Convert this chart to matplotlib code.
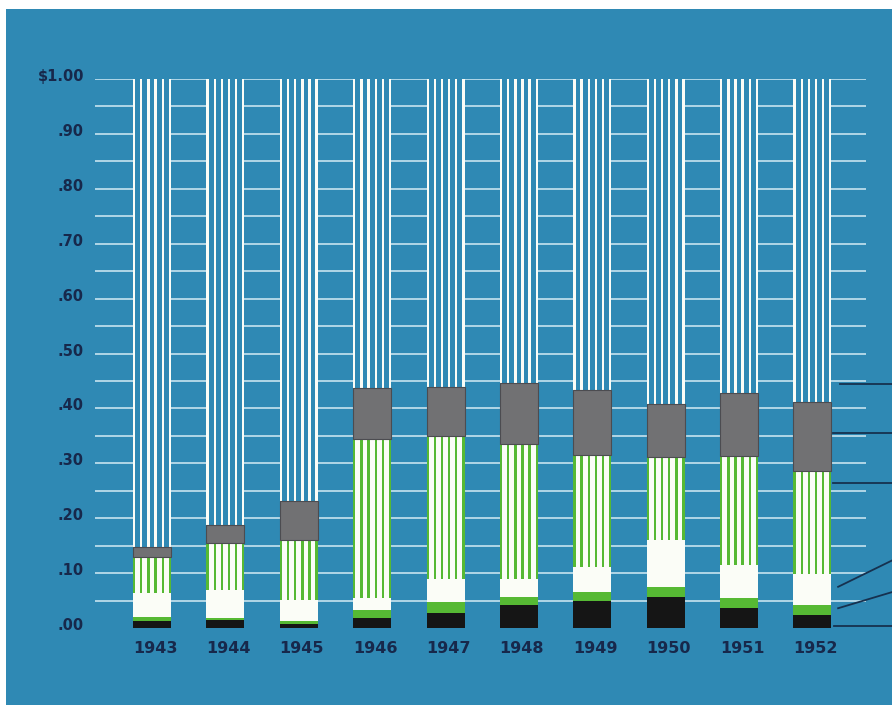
import matplotlib
matplotlib.use("Agg")
import matplotlib.pyplot as plt
import matplotlib.transforms as mtrans
import numpy as np

# ---- data: share of each dollar, by year, stacked from the bottom ----
years = ["1943", "1944", "1945", "1946", "1947", "1948", "1949", "1950", "1951", "1952"]
solid_black = [0.013, 0.015, 0.007, 0.018, 0.028, 0.041, 0.050, 0.056, 0.036, 0.024]
solid_green = [0.007, 0.004, 0.006, 0.015, 0.020, 0.016, 0.015, 0.019, 0.018, 0.017]
solid_white = [0.044, 0.050, 0.038, 0.021, 0.041, 0.032, 0.046, 0.085, 0.061, 0.058]
striped_green = [0.065, 0.086, 0.110, 0.291, 0.260, 0.247, 0.205, 0.152, 0.199, 0.187]
solid_gray = [0.018, 0.032, 0.071, 0.093, 0.090, 0.111, 0.117, 0.096, 0.114, 0.125]

y_ticks = [0.0, 0.1, 0.2, 0.3, 0.4, 0.5, 0.6, 0.7, 0.8, 0.9, 1.0]
y_tick_labels = [".00", ".10", ".20", ".30", ".40", ".50", ".60", ".70", ".80", ".90", "$1.00"]

# leader lines running off the right edge: (x0, y0, x1, y1) in data units
leaders = [
    (9.37, 0.444, 10.1, 0.444),
    (9.28, 0.355, 10.1, 0.355),
    (9.28, 0.264, 10.1, 0.264),
    (9.35, 0.075, 10.1, 0.124),
    (9.35, 0.036, 10.1, 0.066),
    (9.30, 0.004, 10.1, 0.004),
]

# ---- colours ----
BG = "#2f89b4"
GRID = "#d4ecf4"
BLACK = "#151515"
GREEN = "#56b934"
WHITE = "#fbfdf7"
GRAY = "#717173"
NAVY = "#17284b"
LEADER = "#16314f"

W, H = 892, 705
fig = plt.figure(figsize=(W / 100, H / 100), dpi=100)
fig.patch.set_facecolor("white")

# blue panel behind everything
bg_ax = fig.add_axes([6 / W, 0, 1, (H - 9) / H], zorder=-1)
bg_ax.set_facecolor(BG)
bg_ax.set_xticks([])
bg_ax.set_yticks([])
for s in bg_ax.spines.values():
    s.set_visible(False)

ax = fig.add_axes([95 / W, (H - 628) / H, 771 / W, 549 / H], zorder=1)
ax.set_facecolor("none")
ax.set_xlim(-0.777, 9.73)
ax.set_ylim(0, 1)
for s in ax.spines.values():
    s.set_visible(False)

# horizontal rules every five cents
for v in np.arange(0.05, 1.0001, 0.05):
    ax.axhline(v, color=GRID, lw=1.1, zorder=1)

x = np.arange(len(years))
bw = 0.518          # bar width
lw_stripe = 0.032   # stripe width

b1 = np.array(solid_black)
b2 = b1 + np.array(solid_green)
b3 = b2 + np.array(solid_white)
b4 = b3 + np.array(striped_green)
total = b4 + np.array(solid_gray)
rest = 1.0 - total


def stripes(heights, bottoms, color, z):
    for k in range(6):
        off = -bw / 2 + lw_stripe / 2 + k * (bw - lw_stripe) / 5
        ax.bar(x + off, heights, lw_stripe, bottom=bottoms, color=color,
               linewidth=0, zorder=z)


ax.bar(x, solid_black, bw, color=BLACK, linewidth=0, zorder=3)
ax.bar(x, solid_green, bw, bottom=b1, color=GREEN, linewidth=0, zorder=3)
ax.bar(x, solid_white, bw, bottom=b2, color=WHITE, linewidth=0, zorder=3)
ax.bar(x, striped_green, bw, bottom=b3, color=WHITE, linewidth=0, zorder=3)
stripes(striped_green, b3, GREEN, 4)
ax.bar(x, solid_gray, bw, bottom=b4, color=GRAY, edgecolor="#4c4c50",
       linewidth=0.8, zorder=5)
# remainder of the dollar: open column with white pinstripes
ax.bar(x, rest, bw, bottom=total, color=BG, linewidth=0, zorder=3)
stripes(rest, total, WHITE, 4)

for x0, y0, x1, y1 in leaders:
    ax.plot([x0, x1], [y0, y1], color=LEADER, lw=1.3, clip_on=False, zorder=6)

# axis labels
ax.set_yticks(y_ticks)
ax.set_yticklabels(y_tick_labels)
ax.tick_params(axis="y", length=0, pad=8, labelsize=10.5, labelcolor=NAVY)
shift_up = mtrans.ScaledTranslation(0, 4 / 100, fig.dpi_scale_trans)
for lbl in ax.get_yticklabels():
    lbl.set_fontweight("bold")
    lbl.set_fontfamily("DejaVu Sans")
    lbl.set_transform(lbl.get_transform() + shift_up)

ax.set_xticks(x)
ax.set_xticklabels(years)
ax.tick_params(axis="x", length=0, pad=9.5, labelsize=11.5, labelcolor=NAVY)
shift_right = mtrans.ScaledTranslation(3 / 100, 0, fig.dpi_scale_trans)
for lbl in ax.get_xticklabels():
    lbl.set_fontweight("bold")
    lbl.set_fontfamily("DejaVu Sans")
    lbl.set_transform(lbl.get_transform() + shift_right)

fig.savefig("out.png", dpi=100, facecolor=fig.get_facecolor())
